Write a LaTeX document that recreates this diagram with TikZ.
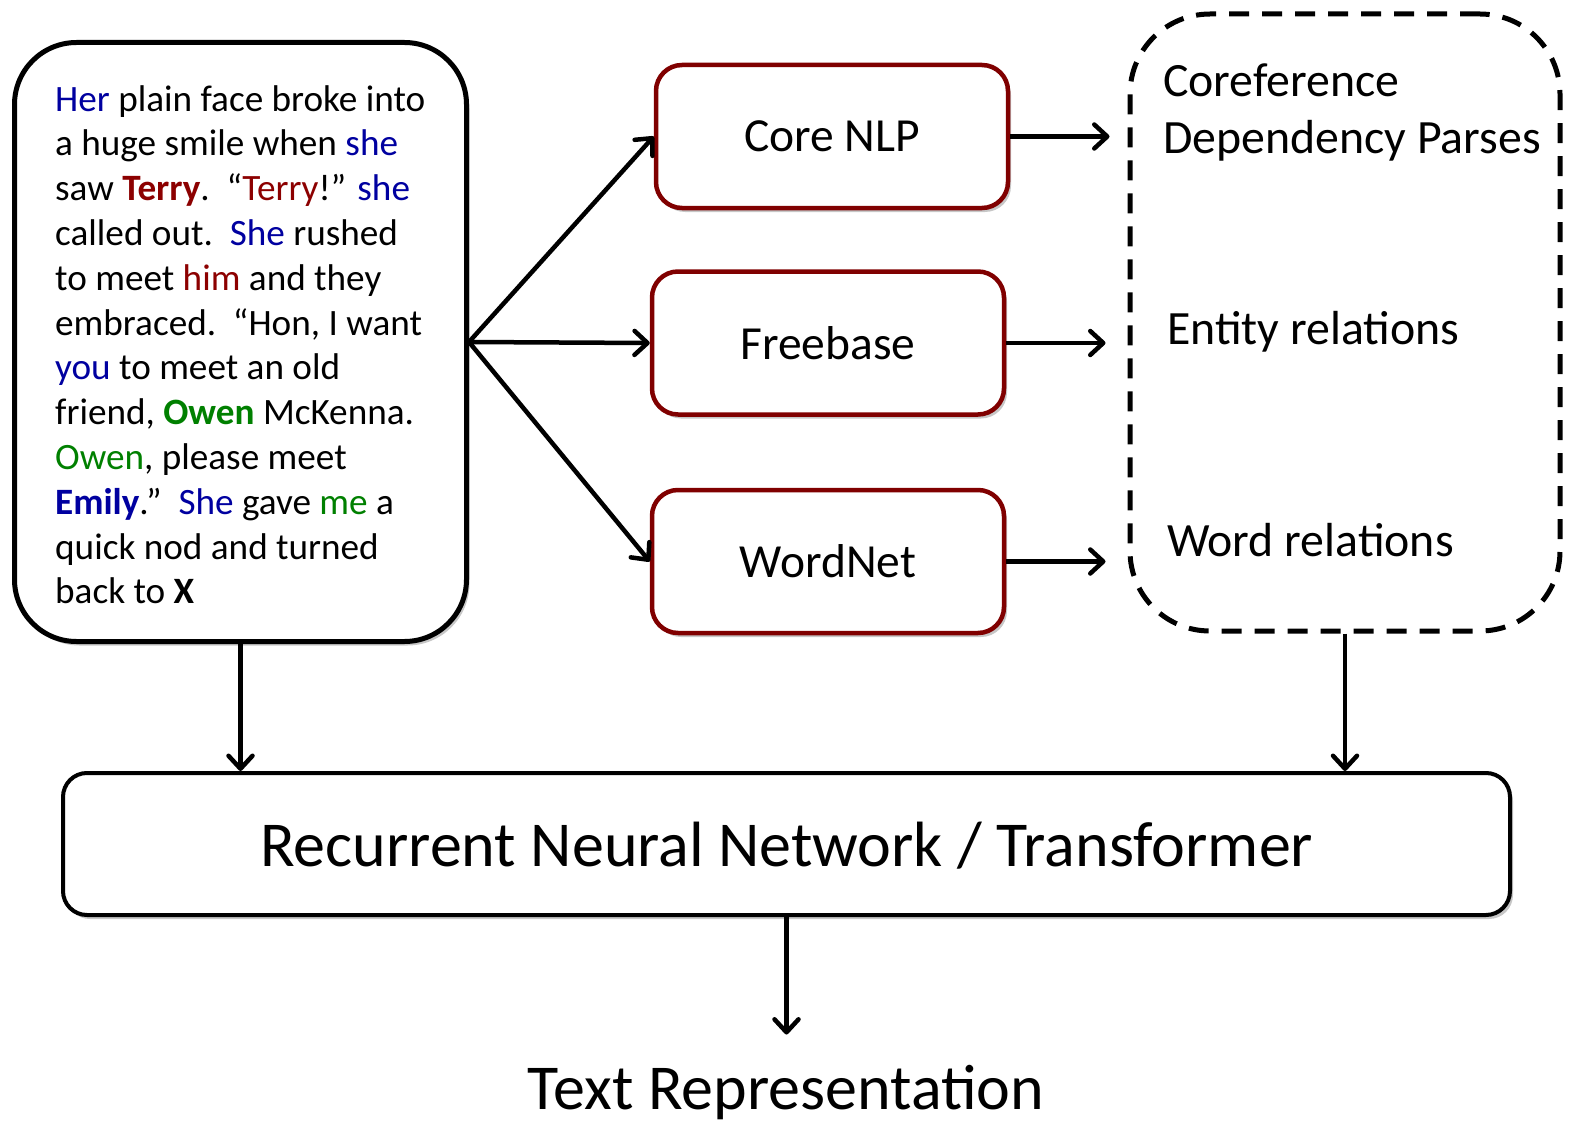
\documentclass[tikz,border=0pt]{standalone}
\usepackage{fontspec}
\setmainfont{Carlito}
\usetikzlibrary{arrows.meta,shadows,calc}
\definecolor{cblue}{RGB}{0,0,160}
\definecolor{cred}{RGB}{140,0,0}
\definecolor{cgreen}{RGB}{0,128,0}
\definecolor{boxred}{RGB}{128,0,0}
\begin{document}
\begin{tikzpicture}[x=1pt,y=-1pt,
  arr/.style={line width=4.5pt,-{Straight Barb[length=13pt,width=24pt,round]}},
  dshadow/.style={drop shadow={shadow xshift=3pt,shadow yshift=-4pt,opacity=0.22,fill=black}},
  procbox/.style={draw=boxred,line width=4.5pt,rounded corners=26pt,fill=white,
    minimum width=352pt,minimum height=143pt,inner sep=0pt,
    font=\fontsize{47.5}{56}\selectfont,dshadow},
  labeltext/.style={inner sep=0pt,font=\fontsize{47.8}{57}\selectfont,align=left},
]
\fill[white] (0,0) rectangle (1575,1121);
\useasboundingbox (0,0) rectangle (1575,1121);

% left text box
\node[draw=black,line width=5pt,rounded corners=62pt,fill=white,
  minimum width=452pt,minimum height=599pt,inner sep=0pt,dshadow] (txt) at (240.5,342) {};
\node[anchor=north west,inner sep=0pt,align=left,
  font=\fontsize{37.2}{44.8}\selectfont] (para) at (55,85) {%
\textcolor{cblue}{Her} plain face broke into\\
a huge smile when \textcolor{cblue}{she}\\
saw \textcolor{cred}{\textbf{Terry}}.\ \ “\textcolor{cred}{Terry}!” \textcolor{cblue}{she}\\
called out.\ \ \textcolor{cblue}{She} rushed\\
to meet \textcolor{cred}{him} and they\\
embraced.\ \ “Hon, I want\\
\textcolor{cblue}{you} to meet an old\\
friend, \textcolor{cgreen}{\textbf{Owen}} McKenna.\\
\textcolor{cgreen}{Owen}, please meet\\
\textcolor{cblue}{\textbf{Emily}}.''\ \ \textcolor{cblue}{She} gave \textcolor{cgreen}{me} a\\
quick nod and turned\\
back to \textbf{X}};

% processing boxes
\node[procbox] (core) at (832,136.5) {Core NLP};
\node[procbox] (fb) at (828,343) {Freebase};
\node[procbox] (wn) at (828,561.5) {WordNet};

% dashed output box
\node[draw=black,line width=5pt,dash pattern=on 20pt off 13pt,rounded corners=80pt,
  minimum width=430pt,minimum height=617pt,inner sep=0pt] (dash) at (1345,322.5) {};
\node[labeltext,anchor=north west] (coref) at (1163,64) {Coreference\\Dependency Parses};
\node[labeltext,anchor=base west] (ent) at (1167,344) {Entity relations};
\node[labeltext,anchor=base west] (wrel) at (1167,556) {Word relations};

% RNN box
\node[draw=black,line width=4pt,rounded corners=24pt,fill=white,
  minimum width=1447pt,minimum height=142pt,inner sep=0pt,text depth=0pt,
  font=\fontsize{64}{75}\selectfont,dshadow] (rnn) at (786.5,844) {Recurrent Neural Network / Transformer};

\node[anchor=base,inner sep=0pt,font=\fontsize{64}{75}\selectfont] (out) at (786,1109) {Text Representation};

% connectors
\draw[arr] (txt.east) -- (core.west);
\draw[arr] (txt.east) -- (fb.west);
\draw[arr] (txt.east) -- (wn.west);
\draw[arr,shorten >=18pt] (core.east) -- (core.east -| dash.west);
\draw[arr,shorten >=22pt] (fb.east) -- (fb.east -| dash.west);
\draw[arr,shorten >=22pt] (wn.east) -- (wn.east -| dash.west);
\draw[arr] (txt.south) -- (txt.south |- rnn.north);
\draw[arr] (dash.south) -- (dash.south |- rnn.north);
\draw[arr,shorten >=30pt] (rnn.south) -- (rnn.south |- out.north);
\end{tikzpicture}
\end{document}
